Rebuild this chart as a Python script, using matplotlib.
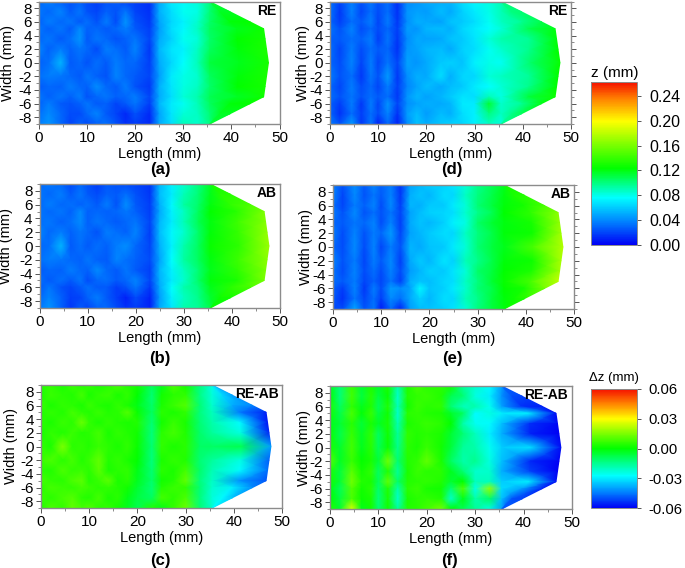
#!/usr/bin/env python3
import matplotlib

matplotlib.use("Agg")
import matplotlib.pyplot as plt
import numpy as np
from matplotlib.cm import ScalarMappable
from matplotlib.colors import LinearSegmentedColormap, Normalize
from matplotlib.ticker import MultipleLocator

plt.rcParams["font.family"] = ["Liberation Sans", "DejaVu Sans"]
plt.rcParams["axes.unicode_minus"] = False

W, H = 685, 568

# stations of the measured grid, mm
length_stations = [0, 2, 4.5, 6.5, 8.5, 10, 12, 14, 16, 18, 20, 23, 25, 27.5, 30, 33, 35.5]
width_stations = [9, 7.5, 6, 5, 3.5, 2, 0, -2, -3.5, -5, -6, -7.5, -9]
outline_y = [-9, -5, 0, 5, 9]
outline_x = [35.5, 46.7, 47.7, 46.7, 35.5]

# values, micrometres; rows follow width_stations,
# the last two columns are the middle of the tip and the outline
z_a = [
    [30, 36, 28, 24, 28, 22, 18, 24, 26, 20, 18, 14, 50, 70, 74, 84, 100, 112, 112],
    [34, 30, 38, 26, 34, 24, 20, 28, 24, 34, 20, 14, 52, 66, 78, 82, 102, 116, 117],
    [28, 36, 30, 34, 26, 32, 24, 36, 22, 44, 24, 16, 48, 64, 72, 86, 104, 122, 125],
    [34, 28, 34, 26, 40, 28, 30, 26, 30, 36, 26, 18, 46, 66, 74, 88, 106, 118, 128],
    [30, 34, 26, 32, 44, 26, 34, 30, 24, 28, 34, 20, 50, 62, 78, 84, 104, 124, 130],
    [38, 28, 36, 28, 34, 30, 22, 36, 32, 26, 38, 16, 54, 68, 72, 88, 106, 122, 132],
    [28, 32, 54, 26, 30, 24, 32, 26, 36, 30, 30, 18, 50, 64, 76, 90, 112, 118, 130],
    [32, 36, 34, 30, 26, 34, 28, 24, 38, 30, 26, 20, 46, 70, 80, 86, 106, 122, 131],
    [26, 30, 28, 36, 30, 28, 42, 30, 26, 36, 24, 16, 52, 68, 82, 88, 104, 124, 130],
    [34, 28, 34, 28, 36, 24, 30, 34, 28, 30, 36, 20, 50, 66, 84, 92, 108, 116, 128],
    [28, 36, 26, 24, 28, 34, 26, 28, 20, 26, 34, 18, 54, 70, 78, 90, 106, 122, 125],
    [32, 40, 30, 22, 22, 30, 38, 26, 20, 12, 24, 12, 48, 68, 84, 88, 102, 116, 117],
    [36, 44, 30, 20, 28, 22, 28, 32, 24, 14, 18, 12, 50, 66, 90, 86, 100, 112, 112],
]
z_b = [
    [30, 34, 30, 22, 30, 24, 18, 26, 24, 22, 20, 16, 54, 72, 86, 100, 116, 128, 128],
    [34, 30, 36, 26, 34, 26, 22, 28, 26, 32, 24, 16, 56, 70, 90, 102, 118, 134, 135],
    [30, 36, 30, 32, 28, 32, 26, 36, 24, 42, 26, 18, 52, 74, 94, 104, 120, 138, 146],
    [34, 30, 34, 28, 40, 28, 30, 28, 30, 34, 28, 18, 50, 72, 88, 106, 124, 136, 162],
    [32, 34, 28, 32, 40, 28, 34, 30, 26, 30, 34, 20, 54, 70, 90, 108, 120, 142, 164],
    [38, 30, 36, 28, 34, 30, 24, 36, 32, 28, 38, 18, 56, 74, 86, 104, 122, 140, 168],
    [30, 32, 54, 26, 32, 26, 32, 28, 36, 42, 30, 20, 52, 72, 92, 106, 126, 138, 170],
    [32, 36, 34, 30, 28, 34, 28, 26, 38, 32, 28, 22, 48, 76, 94, 106, 120, 142, 166],
    [26, 30, 28, 36, 30, 28, 40, 30, 26, 34, 26, 18, 54, 72, 88, 102, 118, 138, 162],
    [32, 26, 32, 26, 34, 22, 30, 32, 26, 30, 38, 20, 52, 70, 86, 104, 122, 132, 160],
    [26, 34, 24, 20, 26, 32, 26, 26, 18, 24, 34, 16, 50, 76, 92, 100, 118, 136, 146],
    [30, 38, 28, 18, 20, 28, 36, 26, 18, 10, 22, 10, 46, 72, 88, 98, 114, 128, 130],
    [34, 44, 28, 16, 26, 20, 28, 30, 22, 14, 18, 10, 50, 68, 92, 96, 110, 122, 122],
]
diff_c = [
    [4, 6, 3, 7, 4, 6, 3, 5, 8, 4, 2, -9, -3, 9, 2, -13, -24, -30, -38],
    [3, 7, 5, 4, 8, 3, 6, 7, 3, 6, 0, -12, 2, 5, 6, -14, -23, -32, -40],
    [7, 3, 6, 5, 3, 7, 4, 3, 6, 3, -2, -11, 3, 7, 10, -12, -22, -38, -44],
    [4, 6, 4, 8, 5, 4, 7, 4, 5, 10, 1, -10, 5, 3, 6, -13, -20, -45, -56],
    [5, 3, 7, 5, 13, 6, 3, 6, 4, 3, 4, -12, 2, 7, 3, -12, -18, -28, -57],
    [3, 6, 4, 7, 4, 5, 8, 3, 6, 4, 2, -13, 5, 8, 4, -11, -16, -24, -55],
    [6, 3, 15, 5, 6, 4, 7, 5, 3, 6, 1, -12, 6, 3, 5, -10, -10, -8, -40],
    [7, 9, 5, 8, 4, 7, 12, 4, 6, 3, 0, -13, 3, 6, 4, -12, -16, -24, -48],
    [5, 4, 9, 6, 7, 5, 11, 3, 5, 6, -2, -12, 5, 3, 8, -11, -19, -28, -46],
    [8, 6, 5, 9, 11, 4, 7, 11, 3, 5, -3, -11, 2, 4, 12, -13, -21, -42, -50],
    [5, 8, 7, 6, 8, 7, 5, 6, 4, 2, -5, -12, 4, 7, 6, -12, -22, -30, -44],
    [7, 5, 8, 10, 5, 4, 8, 3, 5, -2, -7, -10, 8, 5, 9, -13, -23, -28, -36],
    [4, 9, 6, 12, 8, 10, 5, 6, 2, -3, -8, 4, -2, 6, 13, -12, -22, -27, -27],
]
z_d = [
    [32, 20, 36, 24, 34, 24, 32, 14, 40, 44, 50, 52, 54, 66, 74, 82, 90, 98, 100],
    [34, 16, 38, 20, 32, 22, 32, 14, 44, 48, 46, 56, 50, 62, 70, 80, 90, 100, 102],
    [30, 18, 32, 26, 36, 20, 36, 16, 42, 52, 50, 48, 58, 60, 66, 78, 88, 96, 110],
    [34, 24, 38, 22, 30, 22, 30, 18, 46, 44, 54, 56, 52, 64, 70, 76, 84, 108, 120],
    [28, 26, 32, 28, 36, 18, 34, 16, 40, 50, 48, 50, 58, 60, 68, 84, 92, 96, 122],
    [32, 20, 36, 22, 32, 26, 30, 14, 44, 48, 54, 56, 50, 62, 66, 78, 86, 98, 124],
    [30, 22, 38, 20, 36, 20, 34, 20, 48, 44, 50, 60, 62, 58, 72, 80, 78, 104, 126],
    [36, 24, 32, 16, 34, 24, 46, 16, 42, 52, 50, 66, 52, 64, 64, 84, 88, 96, 124],
    [30, 20, 36, 22, 30, 20, 36, 18, 38, 48, 56, 50, 56, 60, 70, 76, 84, 98, 124],
    [32, 24, 34, 24, 32, 26, 32, 16, 44, 54, 48, 54, 60, 68, 66, 90, 82, 112, 128],
    [28, 18, 36, 16, 36, 20, 44, 20, 42, 48, 52, 50, 54, 70, 70, 114, 86, 96, 120],
    [30, 14, 32, 18, 32, 22, 38, 14, 46, 56, 46, 56, 52, 66, 72, 100, 88, 98, 108],
    [36, 24, 46, 16, 34, 10, 30, 10, 40, 58, 52, 60, 62, 64, 72, 88, 82, 94, 94],
]
z_e = [
    [36, 24, 40, 26, 38, 28, 36, 16, 48, 54, 60, 62, 68, 84, 98, 108, 118, 128, 128],
    [38, 20, 40, 24, 34, 26, 38, 16, 52, 58, 54, 66, 64, 88, 100, 110, 120, 132, 134],
    [32, 20, 36, 28, 38, 22, 40, 18, 54, 52, 60, 60, 70, 84, 102, 112, 122, 130, 146],
    [36, 24, 40, 24, 32, 24, 34, 20, 48, 56, 62, 64, 66, 86, 98, 108, 124, 138, 166],
    [30, 26, 34, 30, 38, 22, 38, 18, 50, 58, 54, 62, 72, 82, 104, 114, 120, 130, 168],
    [36, 22, 38, 24, 36, 30, 46, 20, 48, 54, 60, 66, 64, 88, 100, 110, 122, 128, 172],
    [30, 22, 40, 22, 38, 20, 36, 24, 54, 50, 58, 60, 70, 84, 102, 112, 118, 146, 178],
    [38, 24, 36, 20, 36, 26, 40, 18, 50, 60, 54, 68, 62, 90, 98, 110, 122, 128, 174],
    [34, 22, 38, 22, 32, 22, 38, 22, 46, 54, 62, 60, 68, 84, 104, 112, 124, 132, 172],
    [32, 26, 36, 20, 28, 20, 34, 18, 52, 58, 56, 64, 66, 88, 100, 114, 126, 146, 182],
    [28, 18, 38, 16, 36, 22, 46, 40, 48, 74, 58, 62, 70, 86, 102, 110, 124, 130, 160],
    [26, 14, 34, 20, 32, 18, 40, 32, 50, 62, 54, 66, 64, 90, 98, 112, 122, 128, 134],
    [22, 22, 50, 24, 34, 8, 30, 10, 46, 56, 58, 62, 68, 84, 100, 112, 120, 124, 124],
]
diff_f = [
    [-3, -12, 7, -5, 3, -4, 3, -18, 3, 8, 5, 5, 2, -16, -22, -28, -40, -46, -48],
    [0, -13, 8, -7, 5, -7, 1, -22, 4, 6, 7, 4, -8, -12, -24, -30, -42, -50, -52],
    [3, -10, 6, -3, 4, -9, 4, -20, 2, 7, 5, 6, -12, -20, -18, -26, -40, -54, -56],
    [2, -8, 9, -1, 7, -7, 2, -22, 5, 6, 4, 3, -4, -10, -28, -24, -30, -30, -58],
    [-2, -6, 5, -6, 3, -4, 3, -19, 3, 5, 7, 5, 0, -18, -26, -28, -36, -54, -59],
    [1, -8, 7, -4, 6, -10, 2, -16, 6, 4, 5, 3, -5, -12, -20, -30, -38, -56, -60],
    [3, -5, 8, -3, 5, -9, 1, -15, 5, 3, 7, 2, -6, -16, -18, -26, -34, -32, -58],
    [10, -4, 7, 0, 3, -6, 14, -12, 4, 6, 12, 3, -10, -18, -15, -24, -36, -55, -60],
    [3, -7, 11, 2, 6, -10, 4, -16, 3, 7, 5, 5, -3, -12, -22, -22, -38, -52, -60],
    [2, -6, 14, 4, 3, -9, 12, -11, 4, 5, 6, 4, -5, 0, -20, -20, -34, -30, -58],
    [-1, -9, 10, 2, 5, -11, 4, -18, 5, 7, 3, 2, -12, 10, -25, 18, -32, -40, -56],
    [0, -7, 9, 1, 3, -13, 3, -22, 3, 5, 6, 4, -22, -2, -18, -10, -36, -50, -52],
    [4, -5, 26, -3, 2, -12, 2, -16, 4, 5, 8, 14, 0, -8, -16, -24, -40, -48, -48],
]

z_ticks = [0.00, 0.04, 0.08, 0.12, 0.16, 0.20, 0.24]
dz_ticks = [-0.06, -0.03, 0.00, 0.03, 0.06]
length_ticks = [0, 10, 20, 30, 40, 50]
width_ticks = [8, 6, 4, 2, 0, -2, -4, -6, -8]

FRAME = "#8c8c8c"
z_cmap = LinearSegmentedColormap.from_list(
    "rainbow_z",
    [(0.0, "#0000f5"), (0.14, "#0080ff"), (0.29, "#00ffff"), (0.38, "#00ff80"), (0.47, "#00ff00"),
     (0.62, "#80ff00"), (0.76, "#ffff00"), (0.90, "#ff8000"), (1.0, "#f51000")],
)
dz_cmap = LinearSegmentedColormap.from_list(
    "rainbow_dz",
    [(0.0, "#0000f5"), (0.13, "#0080ff"), (0.27, "#00ffff"), (0.39, "#00ff80"), (0.5, "#00ff00"),
     (0.63, "#80ff00"), (0.75, "#ffff00"), (0.88, "#ff8000"), (1.0, "#f51000")],
)
z_norm = Normalize(0.0, 0.2625)
dz_norm = Normalize(-0.06, 0.06)


def px_axes(fig, left, top, right, bottom):
    return fig.add_axes([left / W, 1 - bottom / H, (right - left) / W, (bottom - top) / H])


def grid_xy():
    ys = np.array(width_stations, dtype=float)
    edge = np.interp(ys, outline_y, outline_x)
    body = np.tile(np.array(length_stations, dtype=float), (len(ys), 1))
    mid = (body[:, -1] + edge) / 2
    xs = np.column_stack([body, mid, edge])
    return xs, np.tile(ys[:, None], (1, xs.shape[1]))


def draw_panel(fig, rect, values, cmap, norm, tag, letter, letter_xy, ylabel_x, right_ticks=False):
    ax = px_axes(fig, *rect)
    xs, ys = grid_xy()
    ax.pcolormesh(xs, ys, np.array(values) / 1000.0, shading="gouraud", cmap=cmap, norm=norm, rasterized=True)
    ax.set_xlim(0, 50)
    ax.set_ylim(-9, 9)
    ax.set_xticks(length_ticks)
    ax.set_yticks(width_ticks)
    ax.xaxis.set_minor_locator(MultipleLocator(5))
    ax.yaxis.set_minor_locator(MultipleLocator(1))
    ax.tick_params(which="major", length=3.5, width=0.7, color="#555555", labelsize=11, pad=1.5, right=right_ticks)
    ax.tick_params(which="minor", length=2, width=0.6, color="#777777", right=right_ticks)
    for spine in ax.spines.values():
        spine.set_color(FRAME)
        spine.set_linewidth(1.0)
    ax.set_xlabel("Length (mm)", fontsize=10.5, labelpad=1.5)
    ax.set_ylabel("Width (mm)", fontsize=10.5)
    # label coords anchor the right side of the rotated text, ylabel_x is its centre
    ax.yaxis.set_label_coords((ylabel_x + 6 - rect[0]) / (rect[2] - rect[0]), 0.5)
    ax.text(0.985, 0.925, tag, transform=ax.transAxes, ha="right", va="center", fontsize=10, fontweight="bold")
    fig.text(letter_xy[0] / W, 1 - letter_xy[1] / H, letter, ha="center", va="center", fontsize=12, fontweight="bold")
    return ax


def draw_colorbar(fig, rect, cmap, norm, ticks, label_size, pad, title, title_xy, title_size):
    cax = px_axes(fig, *rect)
    cb = fig.colorbar(ScalarMappable(norm=norm, cmap=cmap), cax=cax, ticks=ticks, format="%.2f")
    cb.outline.set_edgecolor(FRAME)
    cb.outline.set_linewidth(0.7)
    cax.tick_params(length=3, width=0.7, color="#555555", labelsize=label_size, pad=pad)
    fig.text(title_xy[0] / W, 1 - title_xy[1] / H, title, ha="center", va="center", fontsize=title_size)


def main() -> None:
    fig = plt.figure(figsize=(W / 100, H / 100), dpi=100)
    draw_panel(fig, (39, 1.5, 279.5, 124), z_a, z_cmap, z_norm, "RE", "(a)", (160, 170), 9.5)
    draw_panel(fig, (39.5, 184, 280, 308), z_b, z_cmap, z_norm, "AB", "(b)", (160, 358), 7)
    draw_panel(fig, (41, 385, 282, 508), diff_c, dz_cmap, dz_norm, "RE-AB", "(c)", (160, 560), 12)
    draw_panel(fig, (330, 1.5, 571, 124), z_d, z_cmap, z_norm, "RE", "(d)", (452, 170), 304, True)
    draw_panel(fig, (333, 185, 574, 309), z_e, z_cmap, z_norm, "AB", "(e)", (452, 358), 307, True)
    draw_panel(fig, (330, 386, 572, 509), diff_f, dz_cmap, dz_norm, "RE-AB", "(f)", (450, 560), 305)
    draw_colorbar(fig, (591, 82, 637, 245), z_cmap, z_norm, z_ticks, 11.5, 6, "z (mm)", (615, 73), 11)
    draw_colorbar(fig, (591, 389, 637, 508), dz_cmap, dz_norm, dz_ticks, 10.7, 5, "\u0394z (mm)", (614, 378), 9.5)
    fig.savefig("out.png", dpi=100)


if __name__ == "__main__":
    main()
